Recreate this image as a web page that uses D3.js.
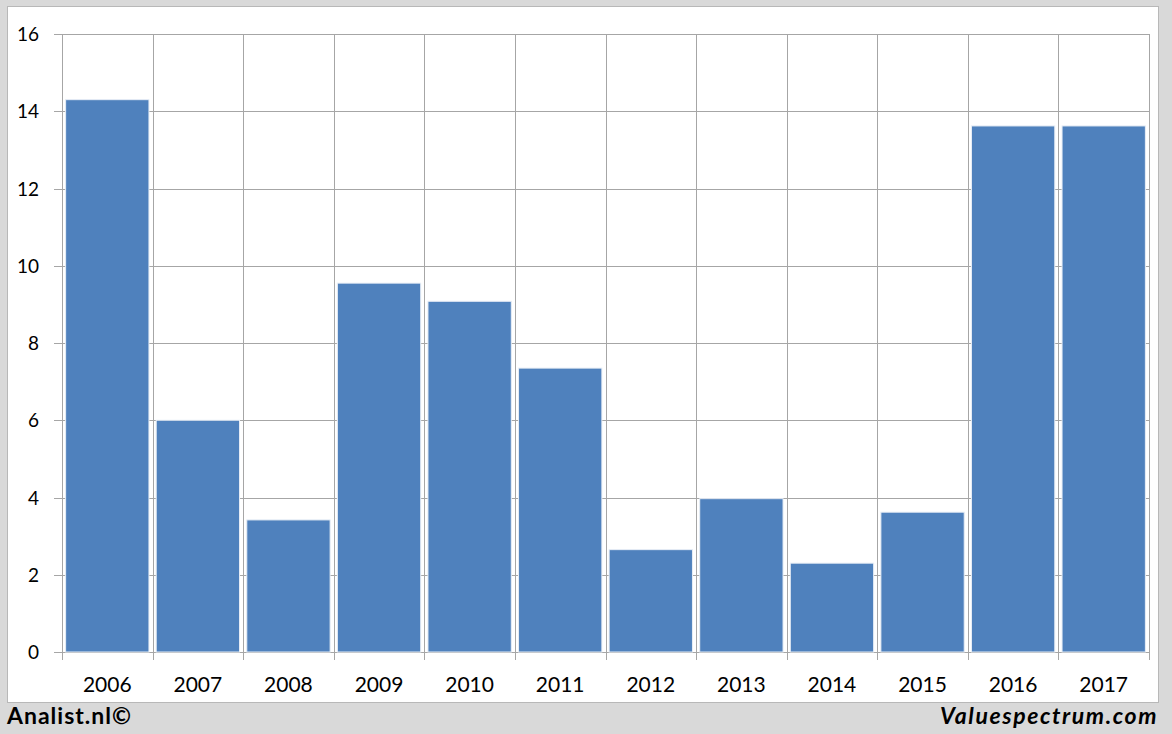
<!DOCTYPE html>
<html><head><meta charset="utf-8">
<script src="https://cdn.jsdelivr.net/npm/d3@7"></script>
<style>body{margin:0;background:#d9d9d9;}svg{display:block;}</style>
</head><body>
<script>
const categories = ["2006","2007","2008","2009","2010","2011","2012","2013","2014","2015","2016","2017"];
const values = [14.3, 6.0, 3.42, 9.55, 9.08, 7.35, 2.65, 3.97, 2.3, 3.62, 13.62, 13.62];
const yTicks = [0,2,4,6,8,10,12,14,16];

const W = 1172, H = 734;
const m = {left: 62, right: 1149, top: 34, bottom: 652};
const svg = d3.select("body").append("svg").attr("width", W).attr("height", H);
svg.append("rect").attr("width", W).attr("height", H).attr("fill", "#d9d9d9");
svg.append("rect").attr("x", 7.5).attr("y", 6.5).attr("width", 1151).attr("height", 696)
  .attr("fill", "#fff").attr("stroke", "#b8b8b8").attr("stroke-width", 1);

const x = d3.scaleBand().domain(categories).range([m.left, m.right]).paddingInner(0.08).paddingOuter(0.04);
const xg = d3.scaleBand().domain(categories).range([m.left, m.right]);
const y = d3.scaleLinear().domain([0, 16]).range([m.bottom, m.top]);

const font = "Lato, 'Open Sans', sans-serif";
// horizontal gridlines
svg.append("g").selectAll("line").data(yTicks).join("line")
  .attr("x1", m.left - 8).attr("x2", m.right)
  .attr("y1", d => Math.round(y(d)) + 0.5).attr("y2", d => Math.round(y(d)) + 0.5)
  .attr("stroke", "#a6a6a6").attr("stroke-width", 1);
// vertical gridlines
const vx = categories.map(c => xg(c)).concat([m.right]);
svg.append("g").selectAll("line").data(vx).join("line")
  .attr("x1", d => Math.round(d) + 0.5).attr("x2", d => Math.round(d) + 0.5)
  .attr("y1", m.top).attr("y2", m.bottom + 8)
  .attr("stroke", "#a6a6a6").attr("stroke-width", 1);

// bars
svg.append("g").selectAll("rect").data(values).join("rect")
  .attr("x", (d, i) => x(categories[i]))
  .attr("width", x.bandwidth())
  .attr("y", d => y(d))
  .attr("height", d => y(0) - y(d))
  .attr("fill", "#4f81bd").attr("stroke", "#e8eef6").attr("stroke-width", 1);

// y labels
svg.append("g").selectAll("text").data(yTicks).join("text")
  .attr("x", 39).attr("y", d => y(d) + 7)
  .attr("text-anchor", "end").attr("font-family", font).attr("font-size", 19).attr("fill", "#000")
  .text(d => d);
// x labels
svg.append("g").selectAll("text").data(categories).join("text")
  .attr("x", d => xg(d) + xg.bandwidth() / 2).attr("y", 692)
  .attr("text-anchor", "middle").attr("font-family", font).attr("font-size", 21).attr("fill", "#000")
  .text(d => d);

svg.append("text").attr("x", 7).attr("y", 724).attr("font-family", font).attr("font-weight", "bold")
  .attr("font-size", 23).attr("letter-spacing", 1).text("Analist.nl©");
svg.append("text").attr("x", 1158).attr("y", 724).attr("text-anchor", "end").attr("font-family", font)
  .attr("font-weight", "bold").attr("font-style", "italic").attr("font-size", 23).attr("letter-spacing", 1.6)
  .text("Valuespectrum.com");
</script>
</body></html>
